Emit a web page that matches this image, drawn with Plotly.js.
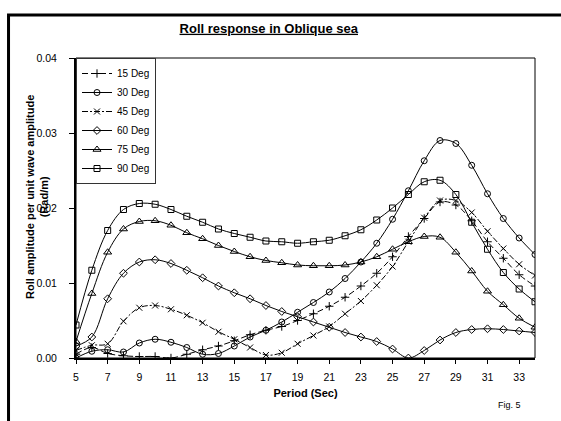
<!DOCTYPE html>
<html>
<head>
<meta charset="utf-8">
<script src="https://cdn.plot.ly/plotly-3.0.1.min.js"></script>
<style>html,body{margin:0;padding:0;background:#fff}#chart{width:561px;height:421px}</style>
</head>
<body>
<div id="chart"></div>
<script>
// Wave period (s)
var periods = [5,6,7,8,9,10,11,12,13,14,15,16,17,18,19,20,21,22,23,24,25,26,27,28,29,30,31,32,33,34];
var xTickVals = [5,7,9,11,13,15,17,19,21,23,25,27,29,31,33];
var yTickVals = [0.00,0.01,0.02,0.03,0.04];
var seriesNames = ["15 Deg","30 Deg","45 Deg","60 Deg","75 Deg","90 Deg"];

// Roll amplitude per unit wave amplitude (Rad/m)
var deg15 = [0.0005,0.0014,0.0006,0.0003,0.0002,0.0002,0.0000,0.0005,0.0011,0.0016,0.0023,0.0031,0.0037,0.0042,0.0050,0.0059,0.0069,0.0081,0.0096,0.0113,0.0135,0.0162,0.0186,0.0208,0.0204,0.0183,0.0155,0.0133,0.0111,0.0096];
var deg30 = [0.0000,0.0009,0.0011,0.0008,0.0020,0.0025,0.0021,0.0014,0.0005,0.0006,0.0016,0.0028,0.0037,0.0048,0.0061,0.0074,0.0088,0.0106,0.0128,0.0153,0.0185,0.0223,0.0263,0.0290,0.0286,0.0257,0.0219,0.0186,0.0160,0.0138];
var deg45 = [0.0010,0.0017,0.0019,0.0049,0.0067,0.0070,0.0065,0.0057,0.0047,0.0035,0.0025,0.0014,0.0004,0.0007,0.0019,0.0030,0.0042,0.0059,0.0076,0.0097,0.0122,0.0155,0.0187,0.0210,0.0210,0.0194,0.0169,0.0146,0.0125,0.0110];
var deg60 = [0.0016,0.0028,0.0079,0.0113,0.0128,0.0131,0.0126,0.0117,0.0107,0.0096,0.0087,0.0079,0.0070,0.0062,0.0055,0.0048,0.0041,0.0034,0.0028,0.0022,0.0012,0.0000,0.0010,0.0024,0.0034,0.0038,0.0039,0.0038,0.0036,0.0034];
var deg75 = [0.0022,0.0086,0.0141,0.0172,0.0182,0.0183,0.0177,0.0167,0.0159,0.0150,0.0142,0.0135,0.0130,0.0127,0.0124,0.0123,0.0123,0.0124,0.0128,0.0135,0.0145,0.0155,0.0162,0.0161,0.0141,0.0116,0.0089,0.0071,0.0053,0.0041];
var deg90 = [0.0044,0.0117,0.0170,0.0198,0.0206,0.0205,0.0198,0.0189,0.0181,0.0172,0.0166,0.0161,0.0156,0.0155,0.0153,0.0155,0.0157,0.0163,0.0171,0.0184,0.0200,0.0218,0.0235,0.0237,0.0218,0.0181,0.0145,0.0114,0.0092,0.0075];

var seriesValues = [deg15, deg30, deg45, deg60, deg75, deg90];
var symbols = ["cross-thin-open","circle-open","x-thin-open","diamond-open","triangle-up-open","square-open"];
var dashes = ["6px,3px","solid","6px,2px,2px,2px","solid","solid","solid"];
var sizes = [6,6,6,6,7,6];

var FONT = "Arial, 'Liberation Sans', sans-serif";

var traces = seriesValues.map(function(vals, i){
  return {
    x: periods, y: vals, name: seriesNames[i],
    type: "scatter", mode: "lines+markers",
    line: {color: "#000", width: 1, dash: dashes[i], shape: "spline", smoothing: 1},
    marker: {symbol: symbols[i], size: sizes[i], color: "#000", line: {color: "#000", width: 1}}
  };
});

var layout = {
  width: 561, height: 421,
  margin: {l: 76, r: 26, t: 58, b: 63, pad: 0},
  paper_bgcolor: "#fff", plot_bgcolor: "#fff",
  font: {family: FONT, color: "#000", size: 10},
  showlegend: true,
  title: {
    text: "Roll response in Oblique sea",
    font: {family: FONT, size: 13, weight: "bold", lineposition: "under", color: "#000"},
    xref: "paper", x: 0.42, xanchor: "center",
    yref: "container", y: 0.933, yanchor: "middle"
  },
  xaxis: {
    range: [5, 34], tickmode: "array", tickvals: xTickVals, ticktext: xTickVals.map(String),
    showgrid: false, zeroline: false, showline: true, linecolor: "#000", linewidth: 2,
    ticks: "outside", ticklen: 4, tickwidth: 1, tickcolor: "#000",
    tickfont: {family: FONT, size: 10.5, color: "#000"}, ticklabelstandoff: 4,
    title: {text: "Period (Sec)", font: {family: FONT, size: 11, weight: "bold", color: "#000"}, standoff: 8}
  },
  yaxis: {
    range: [0, 0.04], tickmode: "array", tickvals: yTickVals, ticktext: yTickVals.map(function(v){return v.toFixed(2);}),
    showgrid: false, zeroline: false, showline: true, linecolor: "#000", linewidth: 2,
    ticks: "outside", ticklen: 5, tickwidth: 1, tickcolor: "#000",
    tickfont: {family: FONT, size: 10.5, color: "#000"}, ticklabelstandoff: 10
  },
  legend: {
    x: 0.0, y: 1.0, xanchor: "left", yanchor: "top", xref: "paper", yref: "paper",
    bgcolor: "#fff", bordercolor: "#333", borderwidth: 1,
    font: {family: FONT, size: 10, color: "#000"}, tracegroupgap: 0, itemwidth: 30
  },
  shapes: [
    {type: "rect", xref: "paper", yref: "paper", x0: 0, x1: 1, y0: 0, y1: 1, line: {color: "#000", width: 1}, fillcolor: "rgba(0,0,0,0)"},
    {type: "rect", xref: "paper", yref: "paper", x0: -0.147, x1: 1.2, y0: -0.4, y1: 1.143, line: {color: "#000", width: 3}, fillcolor: "rgba(0,0,0,0)"}
  ],
  annotations: [
    {text: "<b>Roll amplitude per unit wave amplitude<br>(Rad/m)</b>", textangle: -90, xref: "paper", yref: "paper",
     x: -0.085, y: 0.537, xanchor: "center", yanchor: "middle", showarrow: false,
     font: {family: FONT, size: 11, color: "#000"}},
    {text: "Fig. 5", xref: "paper", yref: "paper", x: 0.9455, y: -0.157, xanchor: "center", yanchor: "middle",
     showarrow: false, font: {family: FONT, size: 9, color: "#000"}}
  ]
};

Plotly.newPlot("chart", traces, layout, {displayModeBar: false, staticPlot: true});
</script>
</body>
</html>
